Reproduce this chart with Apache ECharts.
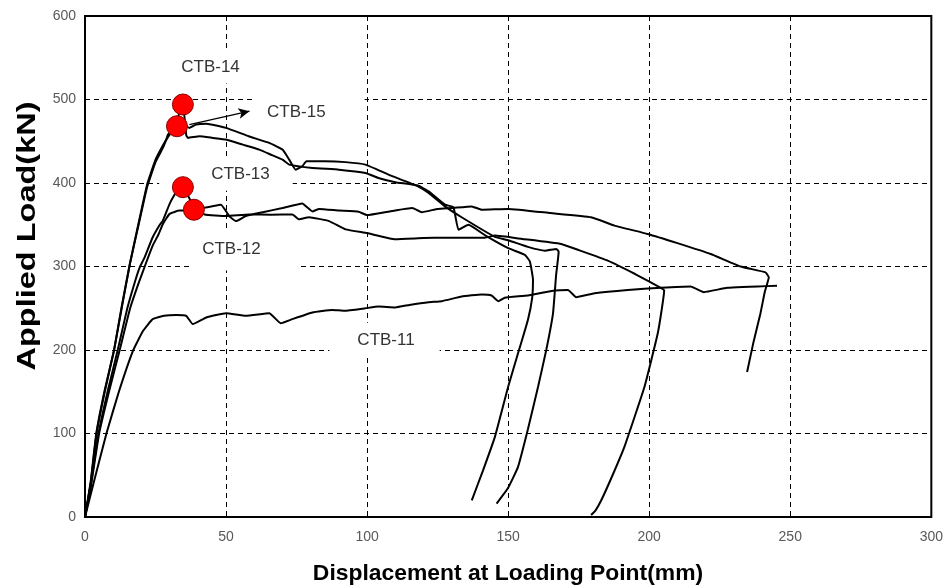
<!DOCTYPE html>
<html>
<head>
<meta charset="utf-8">
<script src="https://cdn.jsdelivr.net/npm/echarts/dist/echarts.min.js"></script>
<style>
html,body{margin:0;padding:0;background:#fff;}
#chart{width:946px;height:588px;}
</style>
</head>
<body>
<div id="chart"></div>
<script>
// ---- Data (displacement mm, load kN) ----
const xTicks = [0, 50, 100, 150, 200, 250, 300];
const yTicks = [0, 100, 200, 300, 400, 500, 600];

const ctb14Disp = [0,2,4.1,7,10.3,13,15.9,19,22,25,27.6,28.8,29.4,31,32.5,34.7,35.9,36.5,40.6,45.3,50,55.9,61.8,66.5,70,72.4,80.6,90,99.4,104,110,118,121.8,127.6,130.6,132.4,135.9,142,150,155.9,157.7,158.8,158.5,157,153.5,150,145.3,141,137.1];
const ctb14Load = [0,40,100,150,200,250,303,350,395,425,442,452,458,463,475,494,457,454,456,454,452,446,440,433,428,422,418,416,412,406,401,397,390,374,371,344,350,337,322,314,306,284,262,236,196,156,96,55,20];

const ctb15Disp = [0,2,4,7,10.3,13,15.9,19,22,25,27.6,29.4,31,32.6,34.5,37,39.4,43,50,58,65.3,70,72.4,74.7,77,78.5,85,92.4,99.4,107.6,118,121.8,127.6,133.5,145.3,150,157,163,167.1,167.9,167,165.9,163.5,160.6,157,153.5,150,145.9];
const ctb15Load = [0,42,100,152,200,252,303,352,398,428,445,455,462,468,470,466,470,471,466,456,448,440,428,416,420,426,426,425,422,410,396,388,372,359,335.5,331.5,323.5,319,321,317.7,290,244,200,156,105,60,35,16];

const ctb13Disp = [0,2,4.8,8,11.6,15,18,19.4,21,24,26.5,27.6,30,32.4,34.7,38.6,42.4,48.2,51.2,53.5,57,63,70,77,80.6,83,90,97,100,108,116,119.4,125,130,137.1,140.6,150,165,179.4,187.7,199.4,210,221.8,232.4,241.2,242.4,241,239.4,237,234.7];
const ctb13Load = [0,38,100,150,200,250,285,299,310,335,350,355,375,389,395,372,370.5,374,360,354.4,360.4,365,370,375.5,366,369,367,365.5,361.6,366,370,365,369,370,372,368,369,364,359,349,339,328,315,300,293,287,270,243.5,210,173.7];

const ctb12Disp = [0,2,5,8.5,12.3,16,19,21.5,24,26,27.6,30,33.5,36,38.6,42.4,50,58.2,66,73.5,75.9,79.4,86.5,92.4,100,110,120,127.6,141.8,145.3,155,168.8,174.7,185.3,195,204.1,205.3,204.5,203,198.3,191.2,187,183,181,179.4];
const ctb12Load = [0,35,100,150,200,250,280,303,325,338,351,363,367,367,368,362.4,360.4,362.4,362,362.4,356.5,359,354.4,344.5,340,332.6,334,334.5,334.5,337,333,327,320,307,291,274.5,271.3,250,219.5,155.7,84,50,20,8,2.4];

const ctb11Disp = [0,3,7.6,12,17,20.6,24,28,32.4,35.9,38.2,43,50,57,65.3,69.4,73.5,80.6,87.6,92,99.4,104,110,115,121.8,126.5,133.5,140.6,144.1,146.5,148.8,157,166.5,171.2,174.1,180.6,192.4,204.1,214.7,219.4,227.7,245.3];
const ctb11Load = [0,40,100,150,199,223,237,241,242,241,231,239,244,241,244,232,237,245,248,247,250,252,251,254,257.3,258.5,264,266.5,265.3,258.5,262.6,265.3,271.3,272,263.3,268,272,274.5,276,269.3,274.5,277];

// peak markers
const peakNames = ['CTB-14','CTB-15','CTB-13','CTB-12'];
const peakDisp  = [34.7, 32.6, 34.7, 38.6];
const peakLoad  = [494, 468, 395, 368];

// specimen labels
const labelNames = ['CTB-14','CTB-15','CTB-13','CTB-12','CTB-11'];
const labelDisp  = [44.5, 74.9, 55.1, 51.9, 106.7];
const labelLoad  = [539, 484, 407, 321, 213];

// arrow pointing at CTB-15
const arrowFrom = [37, 470];
const arrowTo   = [58.3, 486];

// ---- Presentation ----
const labelPads = [[8,14,8,14],[10,39,8,15],[10,23,5,52],[12,40,13,13],[8,25,10,28]];

function zip(xs, ys){ return xs.map((x,i)=>[x, ys[i]]); }

const curves = [
  ['CTB-14', ctb14Disp, ctb14Load],
  ['CTB-15', ctb15Disp, ctb15Load],
  ['CTB-13', ctb13Disp, ctb13Load],
  ['CTB-12', ctb12Disp, ctb12Load],
  ['CTB-11', ctb11Disp, ctb11Load]
];

const series = [];

// label boxes (white background, below the curves)
series.push({
  type: 'scatter',
  name: 'labels',
  z: 1,
  silent: true,
  symbolSize: 1,
  itemStyle: {color: 'rgba(0,0,0,0)'},
  emphasis: {disabled: true},
  data: labelNames.map((n,i)=>{
    const p = labelPads[i];
    return {
      name: n,
      value: [labelDisp[i], labelLoad[i]],
      label: {
        show: true,
        position: 'inside',
        formatter: n,
        color: '#333333',
        opacity: 1,
        textBorderWidth: 0,
        fontFamily: 'Liberation Sans',
        fontSize: 17,
        backgroundColor: '#ffffff',
        padding: p,
        offset: [(p[1]-p[3])/2, (p[2]-p[0])/2]
      }
    };
  })
});

curves.forEach(c=>{
  series.push({
    type: 'line',
    name: c[0],
    z: 3,
    data: zip(c[1], c[2]),
    showSymbol: false,
    symbol: 'none',
    smooth: 0.12,
    lineStyle: {color: '#000', width: 2},
    silent: true
  });
});

// arrow
series.push({
  type: 'line',
  name: 'arrow',
  z: 4,
  data: [],
  markLine: {
    silent: true,
    symbol: ['none', 'arrow'],
    symbolSize: [8, 11],
    lineStyle: {color: '#000', width: 1.3, type: 'solid'},
    label: {show: false},
    data: [[{coord: arrowFrom}, {coord: arrowTo}]]
  }
});

// peak circles
series.push({
  type: 'scatter',
  name: 'peaks',
  z: 6,
  symbolSize: 21,
  itemStyle: {color: '#ff0000', borderColor: '#8b0000', borderWidth: 1, opacity: 1},
  data: peakNames.map((n,i)=>({name: n, value: [peakDisp[i], peakLoad[i]]}))
});

const chart = echarts.init(document.getElementById('chart'), null, {renderer: 'canvas'});
chart.setOption({
  animation: false,
  backgroundColor: '#ffffff',
  grid: {left: 85, right: 12, top: 16, bottom: 71, show: true, borderColor: '#000', borderWidth: 2, backgroundColor: 'transparent'},
  xAxis: {
    type: 'value', min: xTicks[0], max: xTicks[xTicks.length-1], interval: xTicks[1]-xTicks[0],
    axisLine: {show: false}, axisTick: {show: false},
    splitLine: {show: true, lineStyle: {color: '#000', width: 1, type: [5,4]}},
    axisLabel: {color: '#595959', fontSize: 14, fontFamily: 'Liberation Sans', margin: 13}
  },
  yAxis: {
    type: 'value', min: yTicks[0], max: yTicks[yTicks.length-1], interval: yTicks[1]-yTicks[0],
    axisLine: {show: false}, axisTick: {show: false},
    splitLine: {show: true, lineStyle: {color: '#000', width: 1, type: [5,4]}},
    axisLabel: {color: '#595959', fontSize: 14, fontFamily: 'Liberation Sans', margin: 9}
  },
  graphic: [
    {type: 'text', x: 28, y: 236, rotation: Math.PI/2, scaleX: 1.25, z: 10,
     style: {text: 'Applied Load(kN)', font: 'bold 26px "Liberation Sans"', fill: '#000', textAlign: 'center', textVerticalAlign: 'middle'}},
    {type: 'text', x: 508, y: 574, scaleX: 1.04, z: 10,
     style: {text: 'Displacement at Loading Point(mm)', font: 'bold 22px "Liberation Sans"', fill: '#000', textAlign: 'center', textVerticalAlign: 'middle'}}
  ],
  series: series
});
</script>
</body>
</html>
